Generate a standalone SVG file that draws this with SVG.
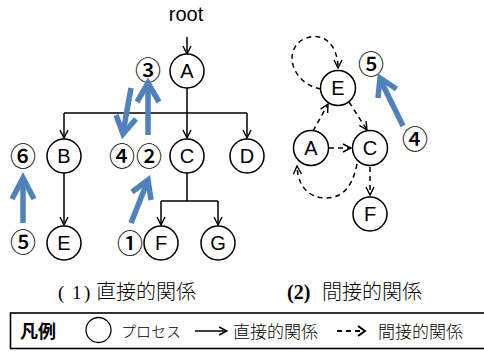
<svg xmlns="http://www.w3.org/2000/svg" width="484" height="352" viewBox="0 0 484 352">
  <style>
    .node { fill: #fff; stroke: #000; stroke-width: 1.5; }
    .lbl { font-family: "Liberation Sans", "Noto Sans", sans-serif; font-size: 20px; text-anchor: middle; fill: #000; }
    .num { font-family: "Noto Sans CJK JP", sans-serif; font-size: 26px; font-weight: 500; text-anchor: middle; fill: #000; }
    .edge { fill: none; stroke: #000; stroke-width: 1.5; }
    .dash { fill: none; stroke: #000; stroke-width: 1.5; stroke-dasharray: 5 4; }
    .blue { fill: none; stroke: #4f81bd; stroke-width: 5.5; stroke-linejoin: miter; stroke-linecap: butt; }
    .jp { font-family: "Noto Sans CJK JP", sans-serif; fill: #000; }
  </style>
  <defs>
    <marker id="arr" viewBox="0 0 10 10" refX="9" refY="5" markerWidth="10" markerHeight="10" markerUnits="userSpaceOnUse" orient="auto">
      <path d="M1,1 L9,5 L1,9" fill="none" stroke="#000" stroke-width="1.4"/>
    </marker>
  </defs>

  <!-- (1) direct relations: tree -->
  <text class="lbl" x="186" y="21" font-size="19">root</text>

  <g id="connectors-direct">
    <path class="edge" d="M187 37 V54" marker-end="url(#arr)"/>
    <path class="edge" d="M187 87 V138" marker-end="url(#arr)"/>
    <path class="edge" d="M64 113 H247"/>
    <path class="edge" d="M64 113 V138" marker-end="url(#arr)"/>
    <path class="edge" d="M247 113 V138" marker-end="url(#arr)"/>
    <path class="edge" d="M64 173 V225" marker-end="url(#arr)"/>
    <path class="edge" d="M187 173 V201"/>
    <path class="edge" d="M161 201 H218"/>
    <path class="edge" d="M161 201 V225" marker-end="url(#arr)"/>
    <path class="edge" d="M218 201 V225" marker-end="url(#arr)"/>
  </g>

  <g id="t-A"><circle class="node" cx="187" cy="71" r="17"/><text class="lbl" x="187" y="78">A</text></g>
  <g id="t-B"><circle class="node" cx="64" cy="156" r="17"/><text class="lbl" x="64" y="163">B</text></g>
  <g id="t-C"><circle class="node" cx="187" cy="156" r="17"/><text class="lbl" x="187" y="163">C</text></g>
  <g id="t-D"><circle class="node" cx="247" cy="156" r="17"/><text class="lbl" x="247" y="163">D</text></g>
  <g id="t-E"><circle class="node" cx="64" cy="243" r="17"/><text class="lbl" x="64" y="250">E</text></g>
  <g id="t-F"><circle class="node" cx="161" cy="243" r="17"/><text class="lbl" x="161" y="250">F</text></g>
  <g id="t-G"><circle class="node" cx="218" cy="243" r="17"/><text class="lbl" x="218" y="250">G</text></g>

  <!-- step numbers -->
  <g id="steps-direct">
    <text class="num" x="148" y="80">③</text>
    <text class="num" x="122" y="166">④</text>
    <text class="num" x="149" y="166">②</text>
    <text class="num" x="23" y="166">⑥</text>
    <text class="num" x="23" y="252">⑤</text>
    <text class="num" x="130" y="253">①</text>
  </g>

  <!-- traversal arrows -->
  <g id="traversal-direct">
    <path class="blue" d="M131 88 L123.5 130"/>
    <path class="blue" d="M116 115 L123 134 L136 119"/>
    <path class="blue" d="M148 135 L148 87"/>
    <path class="blue" d="M137 102 L148 83 L159 102"/>
    <path class="blue" d="M23 223 L23 182"/>
    <path class="blue" d="M12 199 L23 178 L34 199"/>
    <path class="blue" d="M131 223 L146.5 184"/>
    <path class="blue" d="M132 192 L148 180 L151 200"/>
  </g>

  <!-- (2) indirect relations -->
  <g id="connectors-indirect">
    <path class="dash" d="M321 89 C292 84 282 50 304 39 C324 30 338 46 338 68" marker-end="url(#arr)"/>
    <path class="dash" d="M313 131 L328 104" marker-end="url(#arr)"/>
    <path class="dash" d="M349 102 L367 130" marker-end="url(#arr)"/>
    <path class="dash" d="M329 148 L351 148" marker-end="url(#arr)"/>
    <path class="dash" d="M357 164 C352 190 340 198 326 198 C310 198 298 188 297 166" marker-end="url(#arr)"/>
    <path class="dash" d="M370 167 V195" marker-end="url(#arr)"/>
  </g>

  <g id="i-E"><circle class="node" cx="338" cy="88" r="17.5"/><text class="lbl" x="338" y="95">E</text></g>
  <g id="i-A"><circle class="node" cx="311" cy="148" r="17.5"/><text class="lbl" x="311" y="155">A</text></g>
  <g id="i-C"><circle class="node" cx="370" cy="148" r="17.5"/><text class="lbl" x="370" y="155">C</text></g>
  <g id="i-F"><circle class="node" cx="370" cy="214" r="17"/><text class="lbl" x="370" y="221">F</text></g>

  <g id="steps-indirect">
    <text class="num" x="371" y="74">⑤</text>
    <text class="num" x="415" y="149">④</text>
  </g>

  <g id="traversal-indirect">
    <path class="blue" d="M403 126 L381.5 82"/>
    <path class="blue" d="M378 98 L380 78 L396.5 89"/>
  </g>

  <!-- captions -->
  <text y="299" font-family="Liberation Serif, serif" font-size="19"><tspan x="58">(</tspan><tspan x="72">1</tspan><tspan x="84">)</tspan></text>
  <text class="jp" x="96" y="299" font-size="20" font-weight="300">直接的関係</text>
  <text x="287" y="299" font-family="Liberation Serif, serif" font-size="20" font-weight="bold">(2)</text>
  <text class="jp" x="322" y="299" font-size="20" font-weight="300">間接的関係</text>

  <!-- legend -->
  <g id="legend">
    <rect x="10.5" y="313" width="480" height="35.5" fill="none" stroke="#000" stroke-width="1.6"/>
    <text class="jp" x="20" y="338" font-size="18" font-weight="bold">凡例</text>
    <circle cx="98.5" cy="330" r="12.5" fill="none" stroke="#000" stroke-width="1.3"/>
    <text class="jp" x="121" y="337" font-size="15" font-weight="300">プロセス</text>
    <path class="edge" d="M195 331 H227" stroke-width="1.6" marker-end="url(#arr)"/>
    <text class="jp" x="233" y="338" font-size="17" font-weight="300">直接的関係</text>
    <path d="M337 331 H360" fill="none" stroke="#000" stroke-width="2.2" stroke-dasharray="5 4"/>
    <path d="M358 326 L365 331 L358 336" fill="none" stroke="#000" stroke-width="2"/>
    <text class="jp" x="378" y="338" font-size="17" font-weight="300">間接的関係</text>
  </g>
</svg>
